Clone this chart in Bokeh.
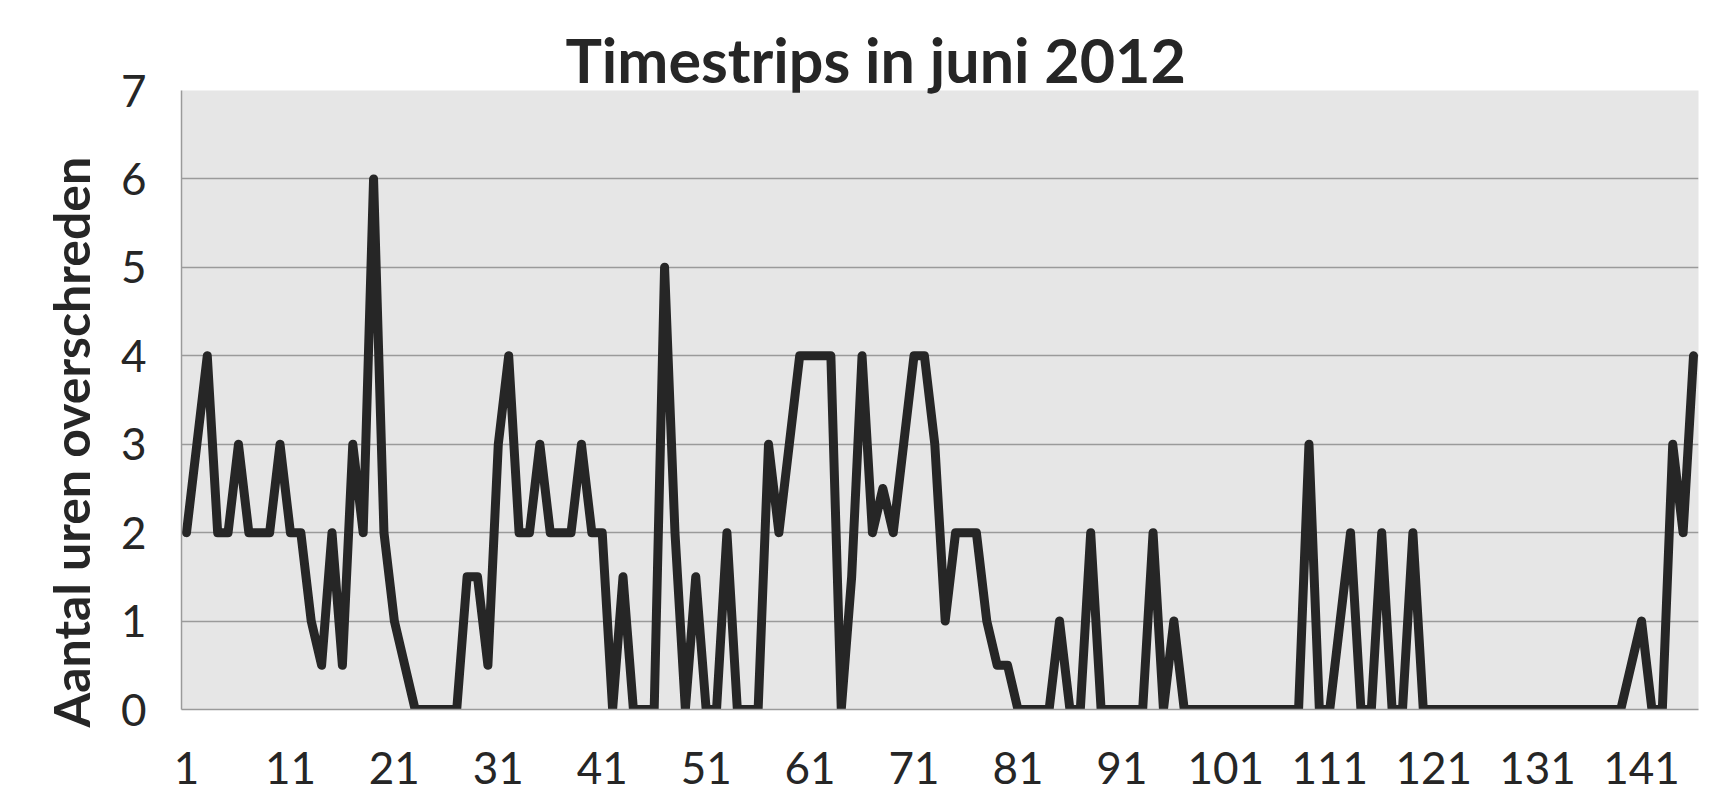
from bokeh.plotting import figure
from bokeh.models import FixedTicker, Title, ColumnDataSource
from bokeh.embed import file_html
from bokeh.resources import INLINE

# ---- data ----
days = list(range(1, 147))
hours_exceeded = [
    2, 3, 4, 2, 2, 3, 2, 2, 2, 3,
    2, 2, 1, 0.5, 2, 0.5, 3, 2, 6, 2,
    1, 0.5, 0, 0, 0, 0, 0, 1.5, 1.5, 0.5,
    3, 4, 2, 2, 3, 2, 2, 2, 3, 2,
    2, 0, 1.5, 0, 0, 0, 5, 2, 0, 1.5,
    0, 0, 2, 0, 0, 0, 3, 2, 3, 4,
    4, 4, 4, 0, 1.5, 4, 2, 2.5, 2, 3,
    4, 4, 3, 1, 2, 2, 2, 1, 0.5, 0.5,
    0, 0, 0, 0, 1, 0, 0, 2, 0, 0,
    0, 0, 0, 2, 0, 1, 0, 0, 0, 0,
    0, 0, 0, 0, 0, 0, 0, 0, 3, 0,
    0, 1, 2, 0, 0, 2, 0, 0, 2, 0,
    0, 0, 0, 0, 0, 0, 0, 0, 0, 0,
    0, 0, 0, 0, 0, 0, 0, 0, 0, 0.5,
    1, 0, 0, 3, 2, 4,
]
x_tick_labels = [1, 11, 21, 31, 41, 51, 61, 71, 81, 91, 101, 111, 121, 131, 141]
y_ticks = [0, 1, 2, 3, 4, 5, 6, 7]
title_text = "Timestrips in juni 2012"
y_label_text = "Aantal uren overschreden"

FONT = "Lato"
TEXT = "#262626"
GRID = "#9a9a9a"

src = ColumnDataSource(dict(x=days, y=hours_exceeded))

p = figure(width=1726, height=803,
           x_range=(0.52, 146.48), y_range=(0, 7),
           output_backend="svg", toolbar_location=None,
           min_border_left=181, min_border_right=28,
           min_border_top=90, min_border_bottom=94)

p.background_fill_color = "#e6e6e6"
p.border_fill_color = "white"
p.outline_line_color = None

p.line("x", "y", source=src, line_color="#262626", line_width=9,
       line_join="round", line_cap="round")

# axes
p.xaxis.ticker = FixedTicker(ticks=x_tick_labels)
p.yaxis.ticker = FixedTicker(ticks=y_ticks)
for ax in (p.xaxis, p.yaxis):
    ax.major_tick_in = 0
    ax.major_tick_out = 0
    ax.minor_tick_in = 0
    ax.minor_tick_out = 0
    ax.axis_line_color = GRID
    ax.axis_line_width = 1.5
    ax.major_label_text_font = FONT
    ax.major_label_text_font_size = "44px"
    ax.major_label_text_color = TEXT
p.xaxis.major_label_standoff = 42
p.yaxis.major_label_standoff = 35

p.xgrid.grid_line_color = None
p.ygrid.grid_line_color = GRID
p.ygrid.grid_line_width = 1.5

# title (above)
p.title = Title(text=title_text, align="left", offset=384,
                text_font=FONT, text_font_style="bold",
                text_font_size="61px", text_color=TEXT,
                text_baseline="alphabetic", standoff=-10)

# y axis label as a left-side title
p.add_layout(Title(text=y_label_text, align="left", offset=-18,
                   text_font=FONT, text_font_style="bold",
                   text_font_size="50px", text_color=TEXT,
                   standoff=33), "left")

open("out.html", "w").write(file_html(p, INLINE))
